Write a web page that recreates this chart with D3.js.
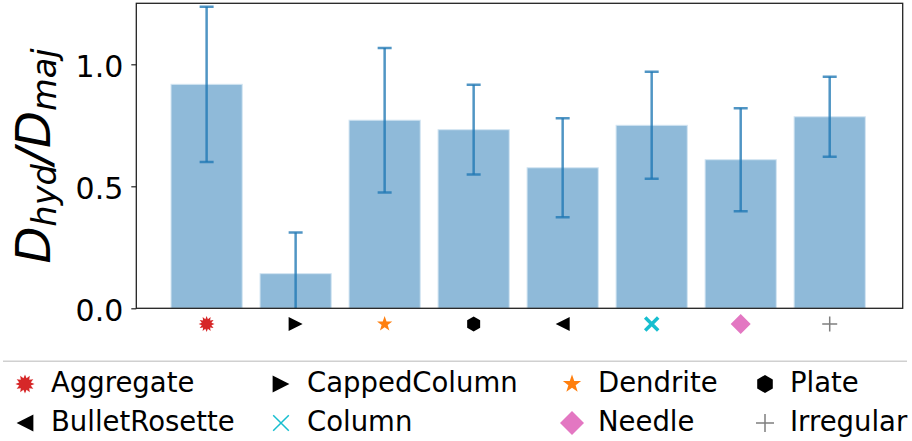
<!DOCTYPE html>
<html>
<head>
<meta charset="utf-8">
<script src="https://cdn.jsdelivr.net/npm/d3@7"></script>
<style>
  html, body { margin: 0; padding: 0; background: #fff; }
  svg { display: block; font-family: "DejaVu Sans", sans-serif; }
</style>
</head>
<body>
<svg id="chart" width="912" height="441"></svg>
<script>
// Hydrometeor classes and their mean diameter ratio with one-sigma spread
const categories = ["Aggregate", "CappedColumn", "Dendrite", "Plate",
                    "BulletRosette", "Column", "Needle", "Irregular"];
const means  = [0.918, 0.142, 0.771, 0.732, 0.576, 0.750, 0.609, 0.785];
const errors = [0.318, 0.169, 0.296, 0.184, 0.203, 0.219, 0.211, 0.164];
const markerKinds  = ["burst", "triRight", "star", "hexagon", "triLeft", "x", "diamond", "plus"];
const markerColors = ["#d62728", "#000000", "#ff7f0e", "#000000", "#000000", "#17becf", "#e377c2", "#7f7f7f"];
const yTicks = [0.0, 0.5, 1.0];

const svg = d3.select("#chart");

const plot = { left: 136.3, right: 902.7, top: 3.3, bottom: 308.3 };

const x = d3.scaleLinear().domain([-0.79, 7.82]).range([plot.left, plot.right]);
const y = d3.scaleLinear().domain([0, 1.25]).range([plot.bottom, plot.top]);
const barWidth = 0.8;

svg.append("defs").append("clipPath").attr("id", "plotClip")
  .append("rect")
  .attr("x", plot.left).attr("y", plot.top)
  .attr("width", plot.right - plot.left).attr("height", plot.bottom - plot.top);

const idx = d3.range(categories.length);

// Bars
svg.append("g").selectAll("rect")
  .data(idx).join("rect")
  .attr("x", i => x(i - barWidth / 2))
  .attr("width", i => x(i + barWidth / 2) - x(i - barWidth / 2))
  .attr("y", i => y(means[i]))
  .attr("height", i => y(0) - y(means[i]))
  .attr("fill", "#8fbad9")
  .attr("stroke", "#d3e5f2")
  .attr("stroke-width", 1);

// Error bars
const eb = svg.append("g").attr("clip-path", "url(#plotClip)")
  .attr("stroke", "#1f77b4").attr("stroke-opacity", 0.78)
  .attr("stroke-width", 2.5);
idx.forEach(i => {
  const cx = x(i), lo = means[i] - errors[i], hi = means[i] + errors[i];
  eb.append("line").attr("x1", cx).attr("x2", cx).attr("y1", y(lo)).attr("y2", y(hi));
  eb.append("line").attr("x1", cx - 7).attr("x2", cx + 7).attr("y1", y(hi)).attr("y2", y(hi));
  eb.append("line").attr("x1", cx - 7).attr("x2", cx + 7).attr("y1", y(lo)).attr("y2", y(lo));
});

// Frame
svg.append("rect")
  .attr("x", plot.left).attr("y", plot.top)
  .attr("width", plot.right - plot.left).attr("height", plot.bottom - plot.top)
  .attr("fill", "none").attr("stroke", "#222").attr("stroke-width", 1.3);

// Y axis
const yAxis = svg.append("g")
  .attr("transform", `translate(${plot.left},0)`)
  .call(d3.axisLeft(y).tickValues(yTicks).tickFormat(d3.format(".1f")).tickSize(5).tickPadding(8));
yAxis.select(".domain").remove();
yAxis.selectAll(".tick line").attr("stroke", "#222").attr("stroke-width", 1.2);
yAxis.selectAll(".tick text")
  .attr("font-family", "DejaVu Sans").attr("font-size", 30).attr("fill", "#000")
  .attr("dy", "12.3px");

// Y label: D_hyd / D_maj
const yl = svg.append("text")
  .attr("transform", "translate(50,156) rotate(-90)")
  .attr("text-anchor", "middle")
  .attr("font-family", "DejaVu Sans").attr("font-style", "italic")
  .attr("font-size", 48).attr("fill", "#000");
yl.append("tspan").text("D");
yl.append("tspan").attr("font-size", 33.6).attr("dy", 6).text("hyd");
yl.append("tspan").attr("dy", -6).text("/D");
yl.append("tspan").attr("font-size", 33.6).attr("dy", 6).text("maj");

// Marker shapes
function markerPath(kind, r) {
  const p = d3.path();
  const poly = pts => { pts.forEach((q, k) => k ? p.lineTo(q[0], q[1]) : p.moveTo(q[0], q[1])); p.closePath(); };
  if (kind === "burst") {
    const pts = [];
    for (let k = 0; k < 24; k++) {
      const a = Math.PI * k / 12 - Math.PI / 2, rr = k % 2 ? r * 0.62 : r;
      pts.push([rr * Math.cos(a), rr * Math.sin(a)]);
    }
    poly(pts);
  } else if (kind === "star") {
    const pts = [];
    for (let k = 0; k < 10; k++) {
      const a = Math.PI * k / 5 - Math.PI / 2, rr = k % 2 ? r * 0.4 : r;
      pts.push([rr * Math.cos(a), rr * Math.sin(a)]);
    }
    poly(pts);
  } else if (kind === "hexagon") {
    const pts = [];
    for (let k = 0; k < 6; k++) {
      const a = Math.PI * k / 3 - Math.PI / 2;
      pts.push([r * Math.cos(a), r * Math.sin(a)]);
    }
    poly(pts);
  } else if (kind === "triRight") {
    poly([[r, 0], [-r, -r], [-r, r]]);
  } else if (kind === "triLeft") {
    poly([[-r, 0], [r, -r], [r, r]]);
  } else if (kind === "diamond") {
    poly([[0, -r], [r, 0], [0, r], [-r, 0]]);
  } else if (kind === "x") {
    p.moveTo(-r, -r); p.lineTo(r, r); p.moveTo(-r, r); p.lineTo(r, -r);
  } else if (kind === "plus") {
    p.moveTo(-r, 0); p.lineTo(r, 0); p.moveTo(0, -r); p.lineTo(0, r);
  }
  return p.toString();
}
const isLine = k => k === "x" || k === "plus";
const baseSize = { burst: 8, star: 8, hexagon: 7.5, triRight: 7, triLeft: 7, diamond: 10, x: 6.5, plus: 7.5 };

function drawMarker(g, i, cx, cy, scale, lineW) {
  const kind = markerKinds[i];
  const path = g.append("path")
    .attr("transform", `translate(${cx},${cy})`)
    .attr("d", markerPath(kind, baseSize[kind] * scale));
  if (isLine(kind)) {
    path.attr("fill", "none").attr("stroke", markerColors[i])
      .attr("stroke-width", kind === "x" ? lineW : 1.5);
  } else {
    path.attr("fill", markerColors[i]);
  }
}

// Category markers under the bars
const mg = svg.append("g");
idx.forEach(i => drawMarker(mg, i, x(i), 324, 1, 3.5));

// Legend
svg.append("line")
  .attr("x1", 3).attr("x2", 907).attr("y1", 361.3).attr("y2", 361.3)
  .attr("stroke", "#d0d0d0").attr("stroke-width", 1.5);

const legMarkerX = [25, 281, 572, 765];
const legTextX = [51, 307, 598, 790];
const legRowY = [384, 423];
const lg = svg.append("g");
idx.forEach(i => {
  const col = i % 4, row = Math.floor(i / 4);
  drawMarker(lg, i, legMarkerX[col], legRowY[row], 1.2, 1.5);
  lg.append("text")
    .attr("x", legTextX[col]).attr("y", legRowY[row] + 8)
    .attr("font-family", "DejaVu Sans").attr("font-size", 27.5).attr("fill", "#000")
    .text(categories[i]);
});
</script>
</body>
</html>
